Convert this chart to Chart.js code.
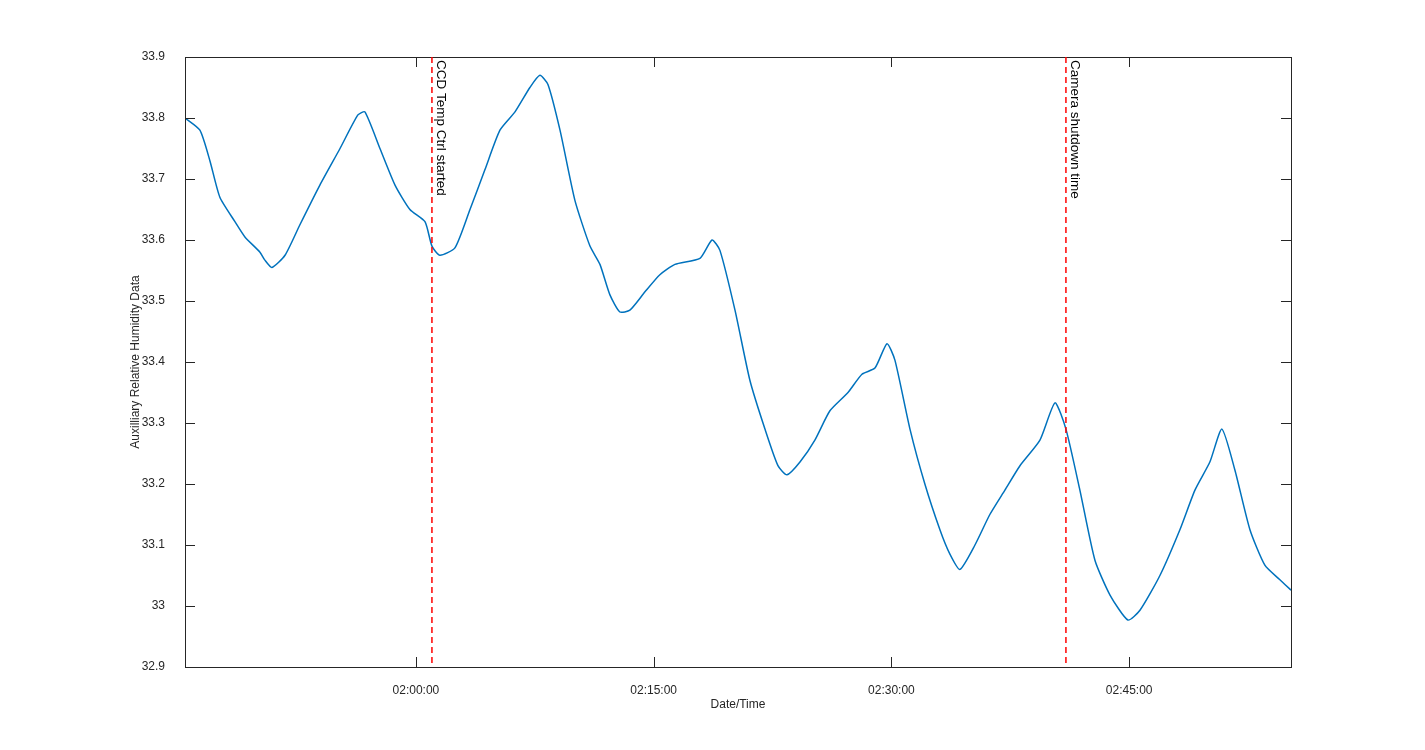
<!DOCTYPE html>
<html><head><meta charset="utf-8">
<script src="https://cdn.jsdelivr.net/npm/chart.js@4"></script>
<style>html,body{margin:0;background:#fff}#wrap{width:1425px;height:750px}</style>
</head><body><div id="wrap"><canvas id="c"></canvas></div>
<script>
// minutes relative to 02:00:00
const minutes = [-14.57,-13.63,-13.0,-12.37,-11.42,-10.79,-9.84,-9.53,-9.09,-8.26,-7.32,-6.06,-4.79,-3.66,-3.22,-2.27,-1.32,-0.38,0.57,1.01,1.51,2.46,3.41,4.35,5.30,6.25,7.19,7.82,8.33,9.09,10.03,10.98,11.61,12.24,12.87,13.50,14.45,15.39,16.34,17.92,18.68,19.18,20.13,21.07,22.02,22.84,23.41,24.23,25.17,26.12,27.26,28.14,28.96,29.72,30.22,31.17,32.11,33.06,33.69,34.32,35.27,36.21,37.16,38.11,39.37,40.32,41.01,41.89,42.84,43.79,44.92,45.68,46.94,48.20,49.15,50.09,50.85,51.67,52.62,53.56,54.51,55.21];
const humidity = [33.80,33.78,33.73,33.67,33.63,33.605,33.58,33.567,33.555,33.575,33.625,33.69,33.75,33.805,33.81,33.75,33.69,33.65,33.63,33.59,33.575,33.587,33.65,33.715,33.78,33.81,33.85,33.87,33.855,33.78,33.665,33.59,33.56,33.51,33.482,33.485,33.515,33.543,33.56,33.57,33.60,33.583,33.485,33.37,33.29,33.23,33.215,33.236,33.272,33.32,33.35,33.38,33.39,33.43,33.403,33.29,33.20,33.125,33.085,33.06,33.10,33.15,33.19,33.23,33.272,33.333,33.29,33.19,33.075,33.018,32.977,32.993,33.05,33.125,33.19,33.236,33.29,33.223,33.125,33.067,33.043,33.026];
const xTicks = [0, 15, 30, 45];
const markers = [{t: 1.01, label: 'CCD Temp Ctrl started'}, {t: 41.01, label: 'Camera shutdown time'}];
const FONT = '"Liberation Sans", Arial';

function fmt(m) {
  const total = 120 + m;
  const h = Math.floor(total / 60), mm = Math.round(total % 60);
  return String(h).padStart(2,'0') + ':' + String(mm).padStart(2,'0') + ':00';
}

const frame = {
  id: 'frame',
  afterDraw(chart) {
    const {ctx, chartArea: a, scales: {x, y}} = chart;
    ctx.save();
    ctx.strokeStyle = '#262626'; ctx.lineWidth = 1;
    ctx.strokeRect(a.left + 0.5, a.top + 0.5, a.right - a.left, a.bottom - a.top);
    ctx.beginPath();
    y.ticks.forEach(t => {
      const py = Math.round(y.getPixelForValue(t.value)) + 0.5;
      ctx.moveTo(a.left, py); ctx.lineTo(a.left + 10, py);
      ctx.moveTo(a.right, py); ctx.lineTo(a.right - 10, py);
    });
    xTicks.forEach(v => {
      const px = Math.round(x.getPixelForValue(v)) + 0.5;
      ctx.moveTo(px, a.bottom); ctx.lineTo(px, a.bottom - 10);
      ctx.moveTo(px, a.top); ctx.lineTo(px, a.top + 10);
    });
    ctx.stroke();
    ctx.fillStyle = '#262626'; ctx.font = '12px ' + FONT;
    ctx.textAlign = 'center'; ctx.textBaseline = 'middle';
    ctx.fillText('Date/Time', (a.left + a.right) / 2, 705);
    ctx.save();
    ctx.translate(136, (a.top + a.bottom) / 2); ctx.rotate(-Math.PI / 2);
    ctx.fillText('Auxilliary Relative Humidity Data', 0, 0);
    ctx.restore();
    markers.forEach(mk => {
      const px = x.getPixelForValue(mk.t);
      ctx.strokeStyle = '#ff0000'; ctx.lineWidth = 1.5; ctx.setLineDash([6, 4]);
      ctx.beginPath(); ctx.moveTo(px, a.top); ctx.lineTo(px, a.bottom); ctx.stroke();
      ctx.setLineDash([]);
      ctx.save();
      ctx.translate(px + 2, a.top + 3); ctx.rotate(Math.PI / 2);
      ctx.fillStyle = '#000'; ctx.font = '13.5px ' + FONT;
      ctx.textBaseline = 'bottom'; ctx.textAlign = 'left';
      ctx.fillText(mk.label, 0, 0);
      ctx.restore();
    });
    ctx.restore();
  }
};

new Chart(document.getElementById('c'), {
  type: 'line',
  data: { datasets: [{ data: minutes.map((m, i) => ({x: m, y: humidity[i]})), borderColor: '#0072bd', borderWidth: 1.5, pointRadius: 0, tension: 0.2 }] },
  options: {
    responsive: true, maintainAspectRatio: false, animation: false,
    layout: { padding: { top: 57, right: 134, left: 0, bottom: 0 } },
    plugins: { legend: { display: false }, tooltip: { enabled: false } },
    scales: {
      x: {
        type: 'linear', min: -14.57, max: 55.21,
        afterBuildTicks(s) { s.ticks = xTicks.map(v => ({value: v})); },
        afterFit(s) { s.height = 83; },
        grid: { display: false }, border: { display: false },
        ticks: { color: '#262626', font: { size: 12, family: FONT }, padding: 8, maxRotation: 0, callback: v => fmt(v) }
      },
      y: {
        min: 32.9, max: 33.9,
        afterFit(s) { s.width = 185; },
        grid: { display: false }, border: { display: false },
        ticks: { stepSize: 0.1, color: '#262626', font: { size: 12, family: FONT }, padding: 12, callback: v => String(Math.round(v * 10) / 10) }
      }
    }
  },
  plugins: [frame]
});
</script></body></html>
